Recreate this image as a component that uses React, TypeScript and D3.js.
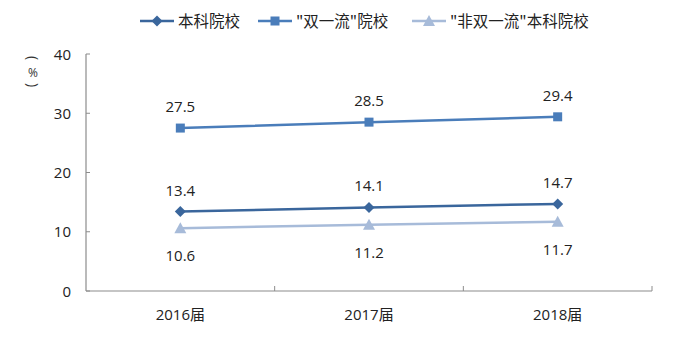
import React from "react";
import * as d3 from "d3";

const categories = ["2016届", "2017届", "2018届"];
const seriesNames = ["本科院校", "\"双一流\"院校", "\"非双一流\"本科院校"];
const undergrad = [13.4, 14.1, 14.7];
const doubleFirst = [27.5, 28.5, 29.4];
const nonDoubleFirst = [10.6, 11.2, 11.7];
const yTicks = [0, 10, 20, 30, 40];

const colors = ["#3A669C", "#4A7DBA", "#A7BBD9"];
const shapes = ["diamond", "square", "triangle"];
const labelPos = ["above", "above", "below"];

function Marker({ shape, x, y, color }: { shape: string; x: number; y: number; color: string }) {
  if (shape === "diamond") {
    const s = 5.5;
    return <path d={`M${x},${y - s}L${x + s},${y}L${x},${y + s}L${x - s},${y}Z`} fill={color} />;
  }
  if (shape === "square") {
    return <rect x={x - 4.5} y={y - 4.5} width={9} height={9} fill={color} />;
  }
  return <path d={`M${x},${y - 6}L${x + 6},${y + 5}L${x - 6},${y + 5}Z`} fill={color} />;
}

export default function App() {
  const W = 700, H = 338;
  const left = 86, right = 652, top = 54, bottom = 291;
  const x = d3.scaleBand<string>().domain(categories).range([left, right]);
  const y = d3.scaleLinear().domain([0, 40]).range([bottom, top]);
  const data = [undergrad, doubleFirst, nonDoubleFirst];
  const line = d3.line<number>().x((_, i) => x(categories[i])! + x.bandwidth() / 2).y((d) => y(d));
  const font = "'Open Sans', 'Noto Sans', 'Noto Sans CJK SC', sans-serif";
  const cjk = "'Noto Sans CJK SC', sans-serif";
  const legendX = [140, 258, 412];
  const axisColor = "#8c8c8c";

  return (
    <svg width={W} height={H} style={{ position: "absolute", left: 0, top: 0, background: "#fff" }}>
      {/* legend */}
      {seriesNames.map((n, i) => (
        <g key={n}>
          <line x1={legendX[i]} x2={legendX[i] + 34} y1={21} y2={21} stroke={colors[i]} strokeWidth={2.5} />
          <Marker shape={shapes[i]} x={legendX[i] + 17} y={21} color={colors[i]} />
          <text x={legendX[i] + 38} y={27} fontSize={15.5} fill="#222" fontFamily={cjk}>{n}</text>
        </g>
      ))}
      {/* y axis label */}
      <g transform="translate(33,58) rotate(90)">
        <text x={0} y={0} fontSize={14} fill="#333" textAnchor="middle" dominantBaseline="central" fontFamily={font}>(</text>
      </g>
      <text x={33} y={72} fontSize={12} fill="#333" textAnchor="middle" dominantBaseline="central" fontFamily={font}>%</text>
      <g transform="translate(33,85) rotate(90)">
        <text x={0} y={0} fontSize={14} fill="#333" textAnchor="middle" dominantBaseline="central" fontFamily={font}>)</text>
      </g>
      {/* axes */}
      <line x1={left} x2={left} y1={top} y2={bottom} stroke={axisColor} strokeWidth={1.2} />
      <line x1={left} x2={right} y1={bottom} y2={bottom} stroke={axisColor} strokeWidth={1.2} />
      {yTicks.map((t) => (
        <g key={t}>
          <line x1={left} x2={left + 4} y1={y(t)} y2={y(t)} stroke={axisColor} strokeWidth={1} />
          <text x={71} y={y(t) + 5.5} fontSize={15} fill="#222" textAnchor="end" fontFamily={font}>{t}</text>
        </g>
      ))}
      {categories.map((c) => (
        <g key={c}>
          <line x1={x(c)! + x.bandwidth()} x2={x(c)! + x.bandwidth()} y1={bottom} y2={bottom - 5} stroke={axisColor} strokeWidth={1} />
          <text x={x(c)! + x.bandwidth() / 2} y={bottom + 29} fontSize={15} fill="#222" textAnchor="middle" fontFamily={font}>{c}</text>
        </g>
      ))}
      {/* series */}
      {data.map((vals, si) => (
        <g key={si}>
          <path d={line(vals)!} fill="none" stroke={colors[si]} strokeWidth={2.5} />
          {vals.map((v, i) => {
            const cx = x(categories[i])! + x.bandwidth() / 2;
            const cy = y(v);
            return (
              <g key={i}>
                <Marker shape={shapes[si]} x={cx} y={cy} color={colors[si]} />
                <text x={cx} y={labelPos[si] === "above" ? cy - 16 : cy + 33} fontSize={15} fill="#222" textAnchor="middle" fontFamily={font}>{v.toFixed(1)}</text>
              </g>
            );
          })}
        </g>
      ))}
    </svg>
  );
}
